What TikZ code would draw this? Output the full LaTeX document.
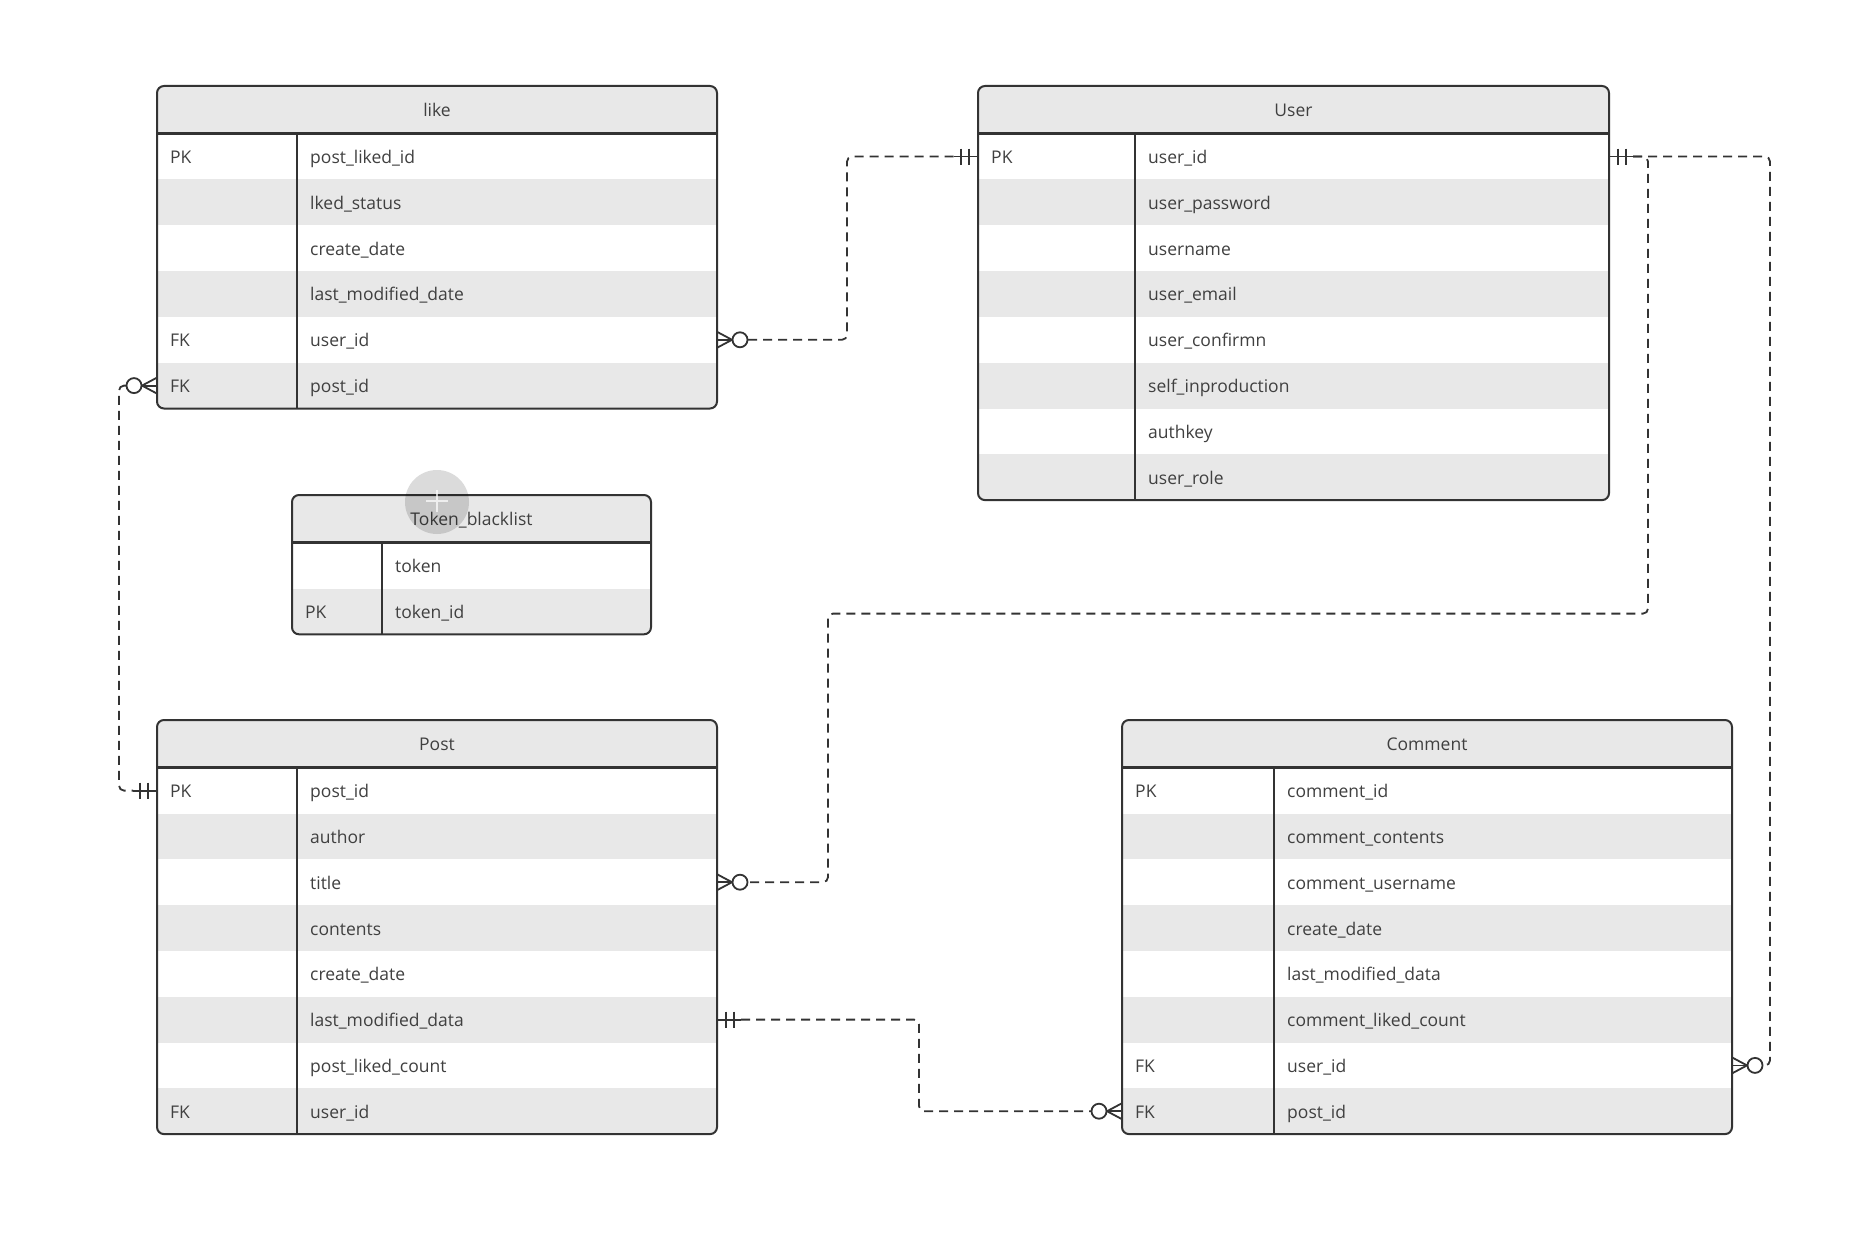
\documentclass[tikz,border=0pt]{standalone}
\usepackage{fontspec}
\setmainfont{Open Sans}
\usetikzlibrary{calc}
\definecolor{ink}{HTML}{333333}
\definecolor{stripe}{HTML}{E8E8E8}
\definecolor{txt}{HTML}{404040}
\tikzset{
  tline/.style={draw=ink, line width=2pt},
  cell/.style={font=\fontsize{17.5}{20}\selectfont, text=txt, inner sep=0pt, anchor=base west},
  rowbox/.style={inner sep=0pt, outer sep=0pt, anchor=north west},
  conn/.style={draw=ink, line width=1.8pt, dash pattern=on 9pt off 6pt, rounded corners=5pt},
  sym/.style={draw=ink, line width=1.8pt},
}
\newcommand\HH{47.7}
\newcommand\RH{45.8}
% #1 name, #2 left, #3 top, #4 right, #5 divider, #6 nrows, #7 title, #8 rows
\newcommand\ertable[8]{%
  \pgfmathsetmacro\erW{#4-#2}%
  \pgfmathsetmacro\erB{#3+\HH+#6*\RH}%
  \begin{scope}
    \clip[rounded corners=7pt] (#2,#3) rectangle (#4,\erB);
    \fill[stripe] (#2,#3) rectangle (#4,{#3+\HH});
    \foreach \i in {1,...,#6}{%
      \ifodd\i\else
        \fill[stripe] (#2,{#3+\HH+(\i-1)*\RH}) rectangle (#4,{#3+\HH+\i*\RH});
      \fi}
  \end{scope}
  \node[rowbox, minimum width=\erW pt, minimum height=\HH pt] (#1-h) at (#2,#3) {};
  \node[cell, anchor=base] at ({(#2+#4)/2},{#3+\HH/2+6.5}) {#7};
  \foreach \k/\f [count=\i] in {#8}{%
    \node[rowbox, minimum width=\erW pt, minimum height=\RH pt] (#1-r\i) at (#2,{#3+\HH+(\i-1)*\RH}) {};
    \node[cell] at ({#2+13},{#3+\HH+(\i-0.5)*\RH+7}) {\k};
    \node[cell] at ({#5+13},{#3+\HH+(\i-0.5)*\RH+7}) {\f};
  }
  \draw[tline, rounded corners=7pt] (#2,#3) rectangle (#4,\erB);
  \draw[tline, line width=2.6pt] (#2,{#3+\HH}) -- (#4,{#3+\HH});
  \draw[tline] (#5,{#3+\HH}) -- (#5,\erB);
}
% zero-or-many symbol
\newcommand\zmany[2]{%
  \begin{scope}[shift={(#1)}, xscale=#2]
    \draw[sym] (0,-8) -- (15,0) -- (0,8);
    \draw[sym] (0,0) -- (15,0);
    \draw[sym, fill=white] (23,0) circle (7.5pt);
  \end{scope}}
% mandatory-one symbol
\newcommand\mone[2]{%
  \begin{scope}[shift={(#1)}, xscale=#2]
    \draw[sym] (0,0) -- (24,0);
    \draw[sym] (9,-8) -- (9,8);
    \draw[sym] (17,-8) -- (17,8);
  \end{scope}}
\begin{document}
\begin{tikzpicture}[x=1pt,y=-1pt]
\useasboundingbox (0,0) rectangle (1870,1246);
\fill[white] (0,0) rectangle (1870,1246);

\ertable{like}{157}{86}{717}{297}{6}{like}{PK/post\_liked\_id, {}/lked\_status, {}/create\_date, {}/last\_modified\_date, FK/user\_id, FK/post\_id}
\ertable{user}{978}{86}{1609}{1135}{8}{User}{PK/user\_id, {}/user\_password, {}/username, {}/user\_email, {}/user\_confirmn, {}/self\_inproduction, {}/authkey, {}/user\_role}
\ertable{token}{292}{495}{651}{382}{2}{Token\_blacklist}{{}/token, PK/token\_id}
\ertable{post}{157}{720}{717}{297}{8}{Post}{PK/post\_id, {}/author, {}/title, {}/contents, {}/create\_date, {}/last\_modified\_data, {}/post\_liked\_count, FK/user\_id}
\ertable{comment}{1122}{720}{1732}{1274}{8}{Comment}{PK/comment\_id, {}/comment\_contents, {}/comment\_username, {}/create\_date, {}/last\_modified\_data, {}/comment\_liked\_count, FK/user\_id, FK/post\_id}

% hover artifact
\fill[black, opacity=0.14] (437,502) circle (32pt);
\draw[white, opacity=0.7, line width=2pt] (437,490) -- (437,512) (426,501) -- (448,501);

% like.user_id  -- User.user_id
\zmany{like-r5.east}{1}
\mone{user-r1.west}{-1}
\draw[conn] ([xshift=31pt]like-r5.east) -| ([xshift=-131pt]user-r1.west) -- ([xshift=-24pt]user-r1.west);

% like.post_id -- Post.post_id
\zmany{like-r6.west}{-1}
\mone{post-r1.west}{-1}
\draw[conn] ([xshift=-31pt]like-r6.west) -| ([xshift=-38pt]post-r1.west) -- ([xshift=-24pt]post-r1.west);

% User.user_id -- Post.title
\mone{user-r1.east}{1}
\zmany{post-r3.east}{1}
\coordinate (ub) at ([xshift=39pt,yshift=-457pt]user-r1.east);
\draw[conn] ([xshift=24pt]user-r1.east) -| (ub) -| ([xshift=111pt]post-r3.east) -- ([xshift=31pt]post-r3.east);

% User.user_id -- Comment.user_id
\zmany{comment-r7.east}{1}
\draw[conn] ([xshift=24pt]user-r1.east) -| ([xshift=38pt]comment-r7.east) -- ([xshift=31pt]comment-r7.east);

% Post.last_modified_data -- Comment.post_id
\mone{post-r6.east}{1}
\zmany{comment-r8.west}{-1}
\draw[conn] ([xshift=24pt]post-r6.east) -| ([xshift=-203pt]comment-r8.west) -- ([xshift=-31pt]comment-r8.west);
\end{tikzpicture}
\end{document}
